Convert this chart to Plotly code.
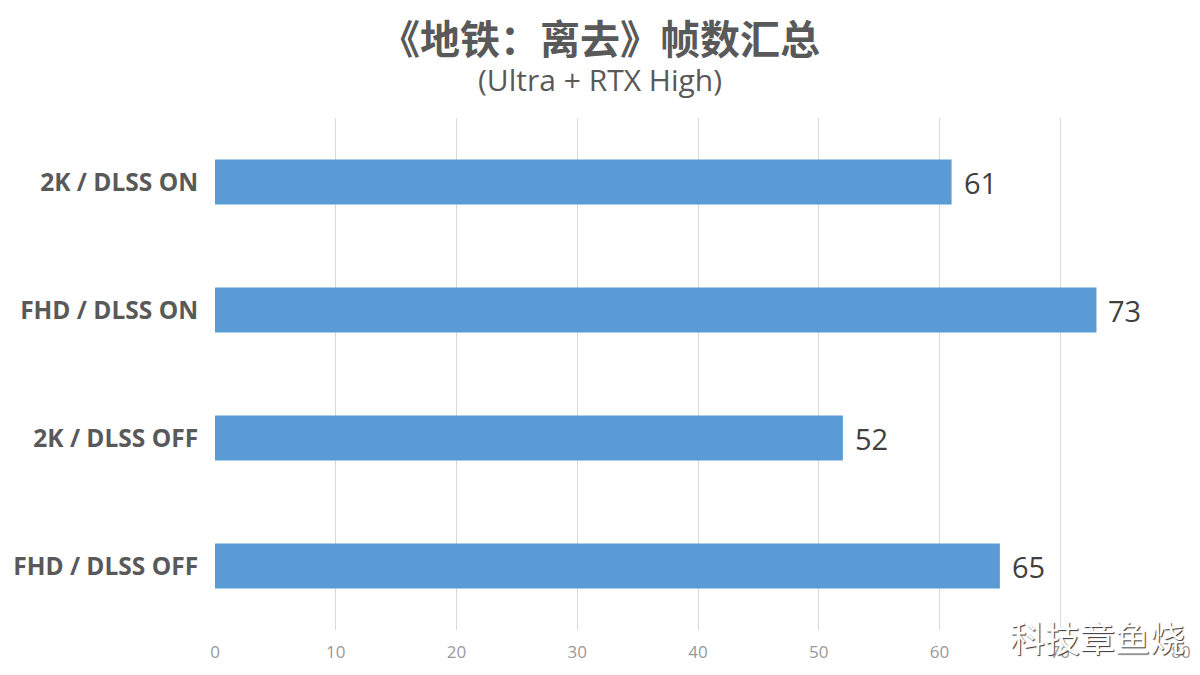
import plotly.graph_objects as go

categories = ["2K / DLSS ON", "FHD / DLSS ON", "2K / DLSS OFF", "FHD / DLSS OFF"]
fps = [61, 73, 52, 65]
x_ticks = [0, 10, 20, 30, 40, 50, 60, 70, 80]

title_text = "《地铁：离去》帧数汇总"
subtitle_text = "(Ultra + RTX High)"
watermark = "科技章鱼烧"

# the page adds an 8px body margin, so the figure is 8px smaller and shifted
W, H = 1192, 667
L, R, T, B = 207, 19, 110, 45
PW, PH = W - L - R, H - T - B


def px(x):
    return (x - 8 - L) / PW


def py(y):
    return 1 - (y - 8 - T) / PH


fig = go.Figure()
fig.add_trace(go.Bar(
    y=categories, x=fps, orientation="h",
    marker=dict(color="#5B9BD5", line=dict(width=0)),
    width=0.35, hoverinfo="skip",
))

annotations = []
for c, v in zip(categories, fps):
    annotations.append(dict(x=v, y=c, text=str(v), showarrow=False,
                            xanchor="left", xshift=10,
                            font=dict(family="Open Sans, Noto Sans", size=29, color="#404040")))

annotations += [
    dict(xref="paper", yref="paper", x=px(600), y=py(79),
         text=subtitle_text, showarrow=False, xanchor="center", yanchor="middle",
         font=dict(family="Open Sans, Noto Sans", size=30, color="#595959")),
    dict(xref="paper", yref="paper", x=px(1097), y=py(636),
         text=watermark, showarrow=False, xanchor="center", yanchor="middle",
         font=dict(family="Noto Sans CJK SC", size=35, color="white",
                   shadow="1px 1px 1px #333")),
]

fig.update_layout(
    width=W, height=H,
    margin=dict(l=L, r=R, t=T, b=B),
    paper_bgcolor="white", plot_bgcolor="white",
    showlegend=False,
    title=dict(text=title_text, x=(600 - 8) / W, xanchor="center",
               y=1 - (40 - 8) / H, yanchor="middle", yref="container",
               font=dict(family="Noto Sans CJK SC", size=40, color="#595959", weight="bold")),
    xaxis=dict(range=[0, 80], tickvals=x_ticks, showgrid=True, automargin=False,
               gridcolor="#d9d9d9", gridwidth=1, zeroline=False,
               showline=False, ticks="outside", ticklen=7, tickcolor="rgba(0,0,0,0)",
               tickfont=dict(family="Open Sans, Noto Sans", size=17, color="#999999")),
    yaxis=dict(categoryorder="array", categoryarray=categories, autorange="reversed",
               showgrid=False, zeroline=False, showline=False, automargin=False,
               ticks="outside", ticklen=11, tickcolor="rgba(0,0,0,0)",
               tickfont=dict(family="Open Sans, Noto Sans", size=24.5, color="#595959",
                             weight="bold")),
    annotations=annotations,
)

fig.write_html("out.html")
